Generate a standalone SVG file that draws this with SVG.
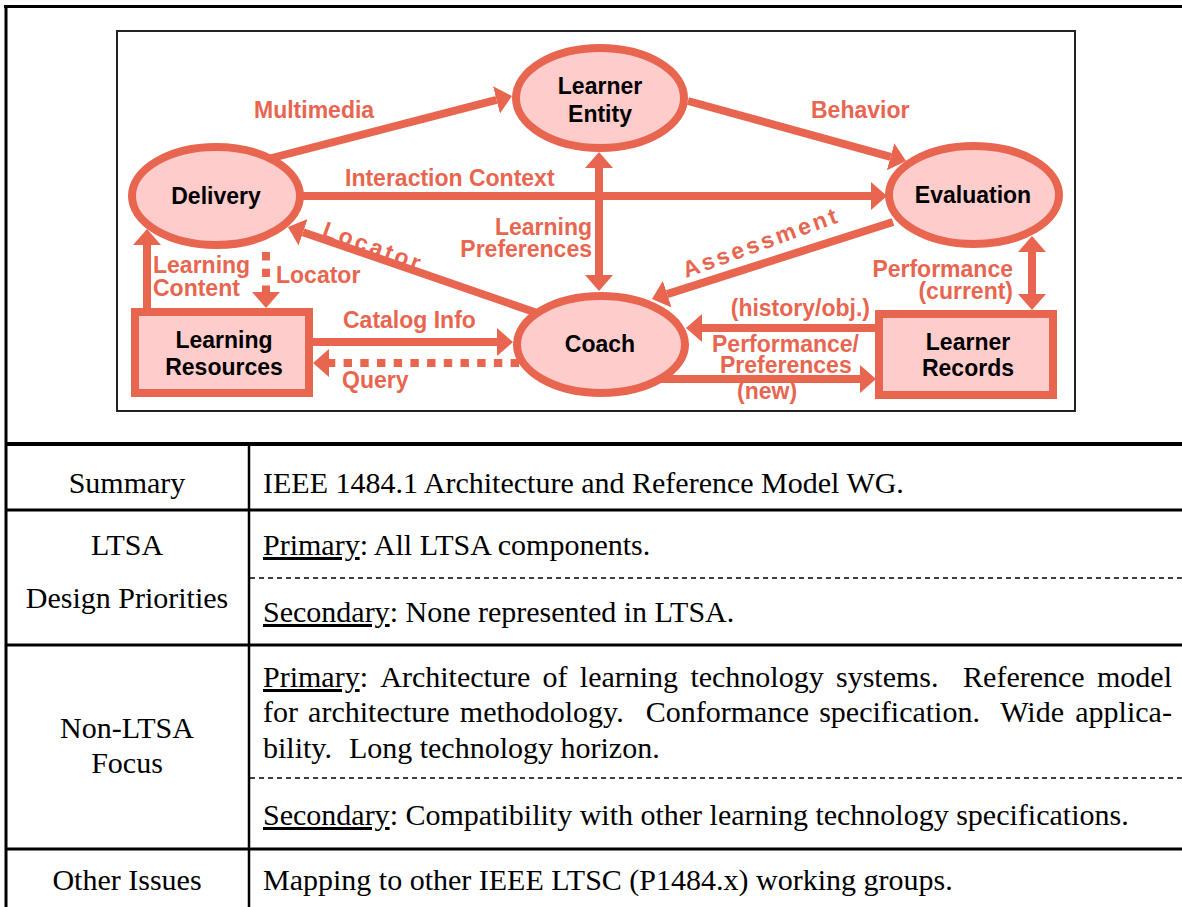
<svg xmlns="http://www.w3.org/2000/svg" width="1182" height="907" viewBox="0 0 1182 907">
<style>
.node{fill:#FFCCCC;stroke:#E8654F;stroke-width:8}
.nl{font-family:"Liberation Sans",Arial,sans-serif;font-weight:bold;font-size:23px;fill:#000;text-anchor:middle}
.el{font-family:"Liberation Sans",Arial,sans-serif;font-weight:bold;font-size:23px;fill:#E8654F}
.ln{stroke:#E8654F;stroke-width:8;fill:none;marker-end:url(#ah)}
.both{marker-start:url(#ah)}
.dot{stroke-dasharray:8.4 8.3}
.tb{font-family:"Liberation Serif","Times New Roman",serif;font-size:30px;fill:#000}
.c{text-anchor:middle}
.r{text-anchor:end}
.bl{stroke:#000;fill:none}
.dash{stroke:#000;stroke-width:1.5;stroke-dasharray:5 4}
</style>
<defs>
<marker id="ah" markerUnits="userSpaceOnUse" markerWidth="16" markerHeight="28" refX="0" refY="14" orient="auto-start-reverse" viewBox="0 0 16 28"><path d="M0,0 L16,14 L0,28 z" fill="#E8654F"/></marker>
</defs>
<rect x="0" y="0" width="1182" height="907" fill="#fff"/>
<g id="frame">
<line class="bl" x1="4" y1="6.5" x2="1182" y2="6.5" stroke-width="3"/>
<line class="bl" x1="6" y1="5" x2="6" y2="907" stroke-width="3"/>
<rect x="117" y="31" width="958" height="380" fill="#fff" stroke="#222" stroke-width="2"/>
</g>
<g id="connectors">
<line class="ln" x1="268" y1="159" x2="496.5" y2="99.9"/>
<line class="ln" x1="688" y1="101" x2="890.6" y2="156.8"/>
<line class="ln" x1="300" y1="196" x2="871" y2="196"/>
<line class="ln both" x1="599" y1="168" x2="599" y2="275"/>
<line class="ln" x1="893" y1="222" x2="667.2" y2="294.1"/>
<line class="ln" x1="540" y1="314" x2="303.1" y2="232.2"/>
<line class="ln" x1="147" y1="312" x2="147" y2="245"/>
<line class="ln dot" x1="266" y1="252" x2="266" y2="292"/>
<line class="ln" x1="309" y1="342" x2="497" y2="342"/>
<line class="ln dot" x1="519" y1="363" x2="329" y2="363"/>
<line class="ln" x1="879" y1="328" x2="702" y2="328"/>
<line class="ln" x1="660" y1="379" x2="860" y2="379"/>
<line class="ln both" x1="1032" y1="252" x2="1032" y2="294"/>
</g>
<g id="connector-labels">
<text class="el" x="254" y="118">Multimedia</text>
<text class="el" x="811" y="118">Behavior</text>
<text class="el" x="345" y="186">Interaction Context</text>
<text class="el r" x="592" y="235">Learning</text>
<text class="el r" x="592" y="257">Preferences</text>
<text class="el" x="686" y="278" letter-spacing="3" transform="rotate(-20 686 278)">Assessment</text>
<text class="el" x="321" y="236" letter-spacing="3" transform="rotate(20 321 236)">Locator</text>
<text class="el" x="153" y="273">Learning</text>
<text class="el" x="153" y="296">Content</text>
<text class="el" x="276" y="283">Locator</text>
<text class="el" x="343" y="328">Catalog Info</text>
<text class="el" x="342" y="388">Query</text>
<text class="el r" x="870" y="316">(history/obj.)</text>
<text class="el" x="712" y="352">Performance/</text>
<text class="el" x="720" y="373">Preferences</text>
<text class="el" x="737" y="399">(new)</text>
<text class="el r" x="1013" y="277">Performance</text>
<text class="el r" x="1013" y="299">(current)</text>
</g>
<g id="learner-entity"><ellipse class="node" cx="600" cy="98" rx="84" ry="50"/><text class="nl" x="600" y="94">Learner</text><text class="nl" x="600" y="122">Entity</text></g>
<g id="delivery"><ellipse class="node" cx="216" cy="196" rx="84" ry="49"/><text class="nl" x="216" y="204">Delivery</text></g>
<g id="evaluation"><ellipse class="node" cx="974" cy="195" rx="85" ry="49"/><text class="nl" x="973" y="203">Evaluation</text></g>
<g id="coach"><ellipse class="node" cx="601" cy="344.5" rx="84" ry="48.5"/><text class="nl" x="600" y="352">Coach</text></g>
<g id="learning-resources"><rect class="node" x="135" y="312" width="174" height="81"/><text class="nl" x="224" y="348">Learning</text><text class="nl" x="224" y="375">Resources</text></g>
<g id="learner-records"><rect class="node" x="879" y="314" width="174" height="81"/><text class="nl" x="968" y="350">Learner</text><text class="nl" x="968" y="376">Records</text></g>
<g id="table">
<line class="bl" x1="6" y1="444" x2="1182" y2="444" stroke-width="4"/>
<line class="bl" x1="6" y1="510" x2="1182" y2="510" stroke-width="3"/>
<line class="bl" x1="6" y1="645" x2="1182" y2="645" stroke-width="3"/>
<line class="bl" x1="6" y1="849" x2="1182" y2="849" stroke-width="3"/>
<line class="bl" x1="249" y1="444" x2="249" y2="907" stroke-width="2.5"/>
<line class="dash" x1="250" y1="578" x2="1182" y2="578"/>
<line class="dash" x1="250" y1="778" x2="1182" y2="778"/>
<text class="tb c" x="127" y="493">Summary</text>
<text class="tb" x="263" y="493">IEEE 1484.1 Architecture and Reference Model WG.</text>
<text class="tb c" x="127" y="555">LTSA</text>
<text class="tb c" x="127" y="608">Design Priorities</text>
<text class="tb" x="263" y="555"><tspan text-decoration="underline">Primary</tspan>: All LTSA components.</text>
<text class="tb" x="263" y="622"><tspan text-decoration="underline">Secondary</tspan>: None represented in LTSA.</text>
<text class="tb c" x="127" y="738">Non-LTSA</text>
<text class="tb c" x="127" y="773">Focus</text>
<text class="tb" y="687"><tspan x="263" text-decoration="underline">Primary</tspan>:<tspan x="380.3">Architecture</tspan><tspan x="542.5">of</tspan><tspan x="579.8">learning</tspan><tspan x="690.4">technology</tspan><tspan x="836">systems.</tspan><tspan x="963.1">Reference</tspan><tspan x="1097">model</tspan></text>
<text class="tb" y="722"><tspan x="263">for</tspan><tspan x="308.1">architecture</tspan><tspan x="459.8">methodology.</tspan><tspan x="645.8">Conformance</tspan><tspan x="819.2">specification.</tspan><tspan x="1000.2">Wide</tspan><tspan x="1075.3">applica-</tspan></text>
<text class="tb" y="758"><tspan x="263">bility.</tspan><tspan x="348.9">Long technology horizon.</tspan></text>
<text class="tb" x="263" y="825"><tspan text-decoration="underline">Secondary</tspan>: Compatibility with other learning technology specifications.</text>
<text class="tb c" x="127" y="890">Other Issues</text>
<text class="tb" x="263" y="890">Mapping to other IEEE LTSC (P1484.x) working groups.</text>
</g>
</svg>
